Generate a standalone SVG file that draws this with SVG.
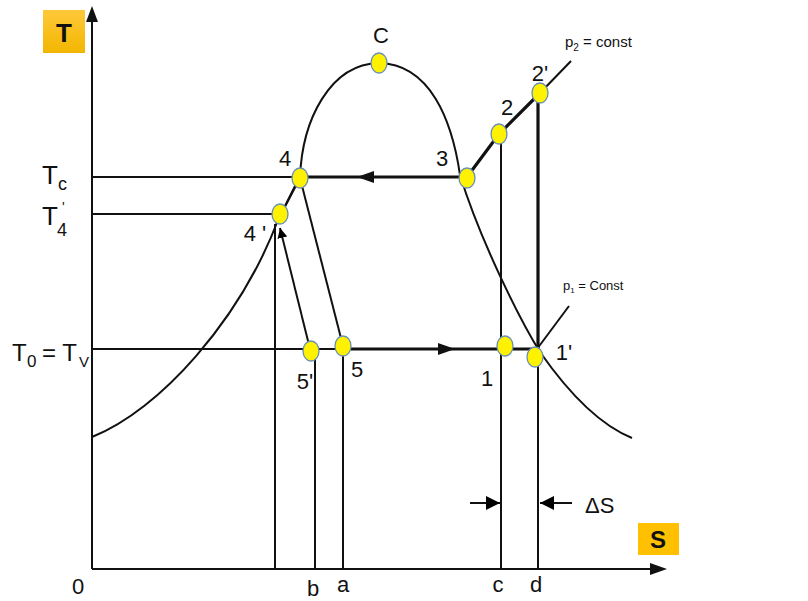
<svg xmlns="http://www.w3.org/2000/svg" width="808" height="601" viewBox="0 0 808 601">
<defs>
<linearGradient id="og" x1="0" y1="0" x2="0" y2="1"><stop offset="0" stop-color="#FFC83A"/><stop offset="1" stop-color="#F2B600"/></linearGradient>
<marker id="ah" viewBox="0 0 10 10" refX="10" refY="5" markerWidth="10" markerHeight="10" markerUnits="userSpaceOnUse" orient="auto"><path d="M0,0 L10,5 L0,10 z" fill="#000"/></marker>
<marker id="ahb" viewBox="0 0 10 10" refX="10" refY="5" markerWidth="16" markerHeight="14" markerUnits="userSpaceOnUse" orient="auto"><path d="M0,0 L10,5 L0,10 z" fill="#000"/></marker>
</defs>
<style>
.t{font-family:"Liberation Sans Narrow","Liberation Sans",Arial,sans-serif;fill:#111}
.l{stroke:#111;stroke-width:2;fill:none}
.th{stroke:#111;stroke-width:3.2;fill:none}
.pt{fill:#FFF200;stroke:#6A8FB0;stroke-width:1.3}
</style>
<rect width="808" height="601" fill="#fff"/>
<g id="axes">
<line class="l" x1="92" y1="569" x2="92" y2="22"/>
<path d="M86,22 L92,6 L98,22 z" fill="#111"/>
<line class="l" x1="92" y1="569" x2="652" y2="569"/>
<path d="M650,563 L667,569 L650,575 z" fill="#111"/>
<rect x="43" y="10" width="42" height="43" fill="url(#og)"/>
<text class="t" x="64" y="42" font-size="26" font-weight="bold" text-anchor="middle" style="font-family:'Liberation Sans',sans-serif">T</text>
<rect x="638" y="523" width="41" height="32" fill="#FFC000"/>
<text class="t" x="658" y="548" font-size="24" font-weight="bold" text-anchor="middle" style="font-family:'Liberation Sans',sans-serif">S</text>
</g>
<g id="connectors">
<path class="l" d="M92,437 C160,410 240,320 278,220 L300,178 C302,120 330,64 379,63 C430,64 452,120 460,175 C480,240 520,320 540,352 C570,395 600,425 632,438"/>
<line class="l" x1="92" y1="177" x2="298" y2="177"/>
<line class="l" x1="92" y1="214" x2="278" y2="214"/>
<line class="l" x1="92" y1="349" x2="343" y2="349"/>
<line class="th" x1="343" y1="349" x2="538" y2="349"/>
<path d="M455,349 L438,343 L438,355 z" fill="#111"/>
<line class="th" x1="300" y1="177" x2="467" y2="177"/>
<path d="M357,177 L374,171 L374,183 z" fill="#111"/>
<polyline class="th" points="467,177 499,134 540,93"/>
<line class="l" x1="540" y1="93" x2="571" y2="61"/>
<line class="l" x1="537" y1="349" x2="569" y2="306"/>
<line class="th" x1="538" y1="93" x2="538" y2="349"/>
<line class="l" x1="538" y1="349" x2="538" y2="569"/>
<line class="l" x1="501" y1="134" x2="501" y2="569"/>
<line class="l" x1="343" y1="349" x2="343" y2="569"/>
<line class="l" x1="315" y1="351" x2="315" y2="569"/>
<line class="l" x1="275" y1="224" x2="275" y2="569"/>
<line class="l" x1="300" y1="178" x2="343" y2="346"/>
<line class="l" x1="310" y1="349" x2="280" y2="228" marker-end="url(#ah)"/>
<line class="l" x1="298" y1="180" x2="282" y2="212"/>
<line class="l" x1="470" y1="503" x2="500" y2="503" marker-end="url(#ahb)"/>
<line class="l" x1="572" y1="503" x2="540" y2="503" marker-end="url(#ahb)"/>
</g>
<g id="points">
<ellipse class="pt" cx="379" cy="63" rx="8" ry="10"/>
<ellipse class="pt" cx="540" cy="93" rx="8" ry="10"/>
<ellipse class="pt" cx="499" cy="134" rx="8" ry="10"/>
<ellipse class="pt" cx="467" cy="178" rx="8" ry="10"/>
<ellipse class="pt" cx="300" cy="178" rx="8" ry="10"/>
<ellipse class="pt" cx="280" cy="214" rx="8" ry="10"/>
<ellipse class="pt" cx="311" cy="351" rx="8" ry="10"/>
<ellipse class="pt" cx="343" cy="346" rx="8" ry="10"/>
<ellipse class="pt" cx="505" cy="346" rx="8" ry="10"/>
<ellipse class="pt" cx="535" cy="357" rx="8" ry="10"/>
</g>
<g id="labels">
<text class="t" x="381" y="43" font-size="22" text-anchor="middle">C</text>
<text class="t" x="540" y="81" font-size="22" text-anchor="middle">2'</text>
<text class="t" x="507" y="115" font-size="22" text-anchor="middle">2</text>
<text class="t" x="442" y="166" font-size="22" text-anchor="middle">3</text>
<text class="t" x="285" y="166" font-size="22" text-anchor="middle">4</text>
<text class="t" x="255" y="241" font-size="22" text-anchor="middle">4 '</text>
<text class="t" x="305" y="389" font-size="22" text-anchor="middle">5'</text>
<text class="t" x="357" y="377" font-size="22" text-anchor="middle">5</text>
<text class="t" x="487" y="386" font-size="22" text-anchor="middle">1</text>
<text class="t" x="564" y="360" font-size="22" text-anchor="middle">1'</text>
<text class="t" x="565" y="47" font-size="15">p<tspan font-size="10" dy="4">2</tspan><tspan dy="-4"> = const</tspan></text>
<text class="t" x="563" y="290" font-size="13">p<tspan font-size="8" dy="3">1</tspan><tspan dy="-3"> = Const</tspan></text>
<text class="t" x="42" y="184" font-size="26">T<tspan font-size="18" dy="6">c</tspan></text>
<text class="t" x="42" y="225" font-size="26">T</text>
<text class="t" x="62" y="212" font-size="14">'</text>
<text class="t" x="57" y="236" font-size="18">4</text>
<text class="t" x="12" y="361" font-size="24">T</text>
<text class="t" x="27" y="367" font-size="17">0</text>
<text class="t" x="42" y="361" font-size="24">= T</text>
<text class="t" x="79" y="367" font-size="15">V</text>
<text class="t" x="585" y="513" font-size="22">ΔS</text>
<text class="t" x="78" y="594" font-size="22" text-anchor="middle">0</text>
<text class="t" x="313" y="596" font-size="22" text-anchor="middle">b</text>
<text class="t" x="343" y="592" font-size="22" text-anchor="middle">a</text>
<text class="t" x="498" y="592" font-size="22" text-anchor="middle">c</text>
<text class="t" x="536" y="592" font-size="22" text-anchor="middle">d</text>
</g>
</svg>
